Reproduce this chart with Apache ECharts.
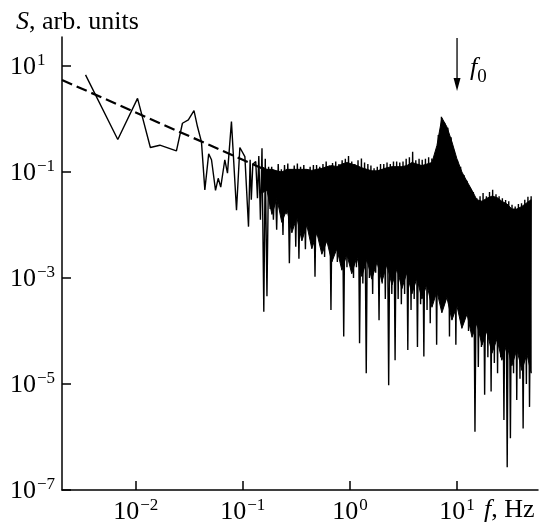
<!DOCTYPE html>
<html><head><meta charset="utf-8">
<script src="https://cdn.jsdelivr.net/npm/echarts@6/dist/echarts.min.js"></script>
<style>html,body{margin:0;padding:0;background:#fff}#c{width:542px;height:525px}</style>
</head><body><div id="c"></div>
<script>
// ---- data ----
// spectrum trace S(f)
const specFreq = [
 0.0034,0.0068,0.0104,0.0137,0.0168,0.024,0.0273,0.031,0.035,0.0377,0.0411,0.0442,0.048,0.051,0.0556,0.0589,0.0622,0.0679,0.0719,0.0783,
 0.0873,0.0938,0.1045,0.1078,0.113,0.117,0.12,0.124,
 0.132,0.137,0.141,0.146,0.151,0.157,0.162,0.168,0.174,0.180,
 0.186,0.193,0.200,0.207,0.214,0.221,0.229,0.237,0.245,0.254,
 0.263,0.272,0.282,0.291,0.302,0.312,0.323,0.334,0.346,0.358,
 0.371,0.384,0.397,0.411,0.425,0.440,0.456,0.472,0.488,0.505,
 0.523,0.541,0.560,0.580,0.600,0.621,0.643,0.665,0.688,0.712,
 0.737,0.763,0.790,0.817,0.846,0.875,0.906,0.938,0.970,1.00,
 1.04,1.08,1.11,1.15,1.19,1.23,1.28,1.32,1.37,1.42,
 1.47,1.52,1.57,1.63,1.68,1.74,1.80,1.87,1.93,2.00,
 2.07,2.14,2.22,2.30,2.38,2.46,2.55,2.64,2.73,2.82,
 2.92,3.02,3.13,3.24,3.35,3.47,3.59,3.72,3.85,3.98,
 4.12,4.27,4.42,4.57,4.73,4.90,5.07,5.25,5.43,5.62,
 5.82,6.02,6.23,6.45,6.68,6.91,7.15,7.40,7.66,7.93,
 8.21,8.50,8.80,9.10,9.42,9.75,10.1,10.45,10.8,11.2,
 11.6,12.0,12.4,12.8,13.3,13.8,14.2,14.7,15.3,15.8,
 16.4,16.9,17.5,18.1,18.8,19.4,20.1,20.8,21.5,22.3,
 23.1,23.9,24.7,25.6,26.5,27.4,28.4,29.4,30.4,31.5,
 32.6,33.7,34.9,36.1,37.4,38.7,40.0,41.4,42.9,44.4,
 45.9,47.5,49.2
];
const specS = [
 6.8,0.41,2.45,0.29,0.32,0.25,0.83,0.96,1.44,0.72,0.37,0.046,0.22,0.17,0.045,0.076,0.052,0.17,0.095,0.89,
 0.019,0.29,0.195,0.18,0.0093,0.17,0.03,0.14,
 0.158,0.032,0.2,0.0126,0.28,2.3e-4,0.178,4.5e-4,0.126,0.02,
 0.126,0.0126,0.1,0.0081,0.141,0.025,0.112,0.0065,0.135,0.016,
 0.145,0.0019,0.112,0.0126,0.132,0.0039,0.145,0.0023,0.126,0.01,
 0.135,0.0035,0.112,0.0079,0.126,0.005,0.135,0.00105,0.135,0.0063,
 0.126,0.004,0.141,0.0025,0.158,0.0063,0.132,2.5e-4,0.148,0.0032,
 0.158,0.002,0.141,0.0032,0.166,7.9e-5,0.178,0.0016,0.2,0.0025,
 0.158,0.001,0.141,0.0016,0.166,5.9e-5,0.18,7.9e-4,0.151,1.6e-5,
 0.141,0.001,0.132,5e-4,0.117,0.00126,0.126,1.6e-4,0.141,7.9e-4,
 0.141,4e-4,0.151,9.5e-6,0.141,5e-4,0.158,2.8e-5,0.158,4e-4,
 0.151,3.2e-4,0.158,5e-4,0.178,4.4e-5,0.19,2.5e-4,0.24,4e-4,
 0.166,5e-5,0.178,3.2e-4,0.17,3.3e-5,0.178,2.5e-4,0.19,1.4e-4,
 0.18,4e-4,0.2,5.5e-5,0.5,0.001,1.1,0.0025,0.85,6.3e-4,
 0.68,7.9e-5,0.45,5e-4,0.25,5.5e-5,0.165,3.2e-4,0.125,1.6e-4,
 0.088,2.5e-4,0.068,1e-4,0.05,2.1e-4,0.042,1.26e-6,0.032,2.1e-5,
 0.035,5e-5,0.04,6.3e-6,0.035,3.2e-5,0.042,7.2e-6,0.046,2.5e-5,
 0.038,1.6e-5,0.035,3.2e-5,0.032,2.1e-6,0.0295,2.7e-7,0.028,9.5e-7,
 0.024,1.6e-5,0.0224,5e-6,0.025,1.26e-5,0.0257,1.45e-6,0.030,1e-5,
 0.034,3.7e-6,0.035
];
// upper and lower edge of the densely filled part of the trace
const bandFreq = [0.150,0.168,0.187,0.208,0.231,0.258,0.287,0.319,0.356,0.396,0.441,0.491,0.547,0.609,0.678,0.755,0.841,0.936,
 1.04,1.16,1.29,1.44,1.60,1.79,1.99,2.21,2.47,2.75,3.06,3.40,3.79,4.22,4.70,5.23,5.83,6.49,7.22,8.04,8.96,9.97,
 11.1,12.4,13.8,15.3,17.1,19.0,21.2,23.6,26.2,29.2,32.5,36.2,40.3,44.9,49.2];
const bandTopS = [0.126,0.112,0.112,0.105,0.1,0.112,0.112,0.112,0.112,0.112,0.107,0.112,0.117,0.126,0.132,0.126,0.141,0.151,
 0.141,0.132,0.12,0.112,0.105,0.105,0.112,0.12,0.126,0.126,0.126,0.132,0.151,0.141,0.132,0.141,0.151,0.316,1.05,0.71,0.37,0.178,
 0.1,0.066,0.045,0.030,0.028,0.032,0.035,0.033,0.028,0.025,0.02,0.02,0.0224,0.0263,0.030];
const bandBottomS = [0.04,0.045,0.0158,0.032,0.0112,0.02,0.0071,0.0141,0.005,0.01,0.00355,0.0071,0.0028,0.005,0.002,0.00355,0.0014,0.0028,
 0.0012,0.0025,0.00107,0.00224,9.5e-4,0.002,8.5e-4,0.00178,7.4e-4,0.0015,6.3e-4,0.00126,5e-4,0.001,4e-4,7.6e-4,2.8e-4,5.6e-4,2.2e-4,4.3e-4,1.6e-4,3e-4,
 1.12e-4,2.1e-4,7.6e-5,1.4e-4,5.4e-5,1e-4,3.8e-5,7.1e-5,2.8e-5,5.6e-5,2.2e-5,4.5e-5,1.8e-5,3.7e-5,1.6e-5];
// dashed power-law fit
const fitFreq = [0.00205, 0.187];
const fitS = [5.45, 0.097];
// ticks
const xTicks = [0.01, 0.1, 1, 10];
const xTickExp = ['\u22122', '\u22121', '0', '1'];
const yTicks = [1e-7, 1e-5, 1e-3, 1e-1, 10];
const yTickExp = ['\u22127', '\u22125', '\u22123', '\u22121', '1'];
const f0 = 10;

const FONT = '"Liberation Serif","Times New Roman",serif';
const chart = echarts.init(document.getElementById('c'), null, {renderer: 'canvas'});
function lab(ticks, exps) {
  return function (v) {
    let k = 0, best = 1e9;
    ticks.forEach((t, i) => { const d = Math.abs(Math.log10(t) - Math.log10(v)); if (d < best) { best = d; k = i; } });
    return '{b|10}{s|' + exps[k] + '}';
  };
}
const rich = {
  b: {fontFamily: FONT, fontSize: 26, color: '#000', lineHeight: 28, verticalAlign: 'bottom'},
  s: {fontFamily: FONT, fontSize: 17, color: '#000', lineHeight: 28, verticalAlign: 'top', padding: [0, 0, 0, 1]}
};
const axLine = {show: true, lineStyle: {color: '#000', width: 1.5}};
chart.setOption({
  animation: false,
  grid: {left: 62, right: 4, top: 37, bottom: 35, containLabel: false},
  xAxis: {
    type: 'log', logBase: 10, min: 0.00205, max: 57,
    axisLine: axLine,
    axisTick: {show: true, inside: true, length: 9, lineStyle: {color: '#000', width: 1.5}, customValues: xTicks},
    axisLabel: {customValues: xTicks, formatter: lab(xTicks, xTickExp), rich: rich, margin: 7},
    splitLine: {show: false}, minorTick: {show: false}
  },
  yAxis: {
    type: 'log', logBase: 10, min: 1e-7, max: 35.2,
    axisLine: axLine,
    axisTick: {show: true, inside: true, length: 9, lineStyle: {color: '#000', width: 1.5}, customValues: yTicks},
    axisLabel: {customValues: yTicks, formatter: lab(yTicks, yTickExp), rich: rich, margin: 52, align: 'left'},
    splitLine: {show: false}, minorTick: {show: false}
  },
  series: [
    {type: 'custom', data: [[1, 1]], z: 2, silent: true, clip: true,
     renderItem: function (params, api) {
       const top = bandFreq.map((f, i) => api.coord([f, bandTopS[i]]));
       const bot = bandFreq.map((f, i) => api.coord([f, bandBottomS[i]])).reverse();
       return {type: 'polygon', shape: {points: top.concat(bot)}, style: {fill: '#000', stroke: '#000', lineWidth: 1}};
     }},
    {type: 'line', data: specFreq.map((f, i) => [f, specS[i]]), showSymbol: false, symbol: 'none',
     lineStyle: {color: '#000', width: 1.4}, z: 3},
    {type: 'line', data: fitFreq.map((f, i) => [f, fitS[i]]), showSymbol: false, symbol: 'none',
     lineStyle: {color: '#000', width: 2.2, type: [11, 5]}, z: 4}
  ]
});
const ax = chart.convertToPixel({xAxisIndex: 0}, f0);
chart.setOption({
  graphic: [
    {type: 'text', left: 16, top: 9, z: 100, style: {rich: {
      i: {fontFamily: FONT, fontStyle: 'italic', fontSize: 26, fill: '#000'},
      n: {fontFamily: FONT, fontSize: 26, fill: '#000'}}, text: '{i|S}{n|, arb. units}'}},
    {type: 'text', left: 484, top: 497, z: 100, style: {rich: {
      i: {fontFamily: FONT, fontStyle: 'italic', fontSize: 26, fill: '#000'},
      n: {fontFamily: FONT, fontSize: 26, fill: '#000'}}, text: '{i|f}{n|, Hz}'}},
    {type: 'line', z: 100, shape: {x1: ax, y1: 38, x2: ax, y2: 82}, style: {stroke: '#000', lineWidth: 1.3}},
    {type: 'polygon', z: 100, shape: {points: [[ax - 3.5, 78], [ax + 3.5, 78], [ax, 91]]}, style: {fill: '#000'}},
    {type: 'text', z: 100, x: ax + 13, y: 55, style: {rich: {
      i: {fontFamily: FONT, fontStyle: 'italic', fontSize: 26, fill: '#000', lineHeight: 28, verticalAlign: 'top'},
      sub: {fontFamily: FONT, fontSize: 19, fill: '#000', lineHeight: 32, verticalAlign: 'bottom'}}, text: '{i|f}{sub|0}'}}
  ]
});
</script></body></html>
